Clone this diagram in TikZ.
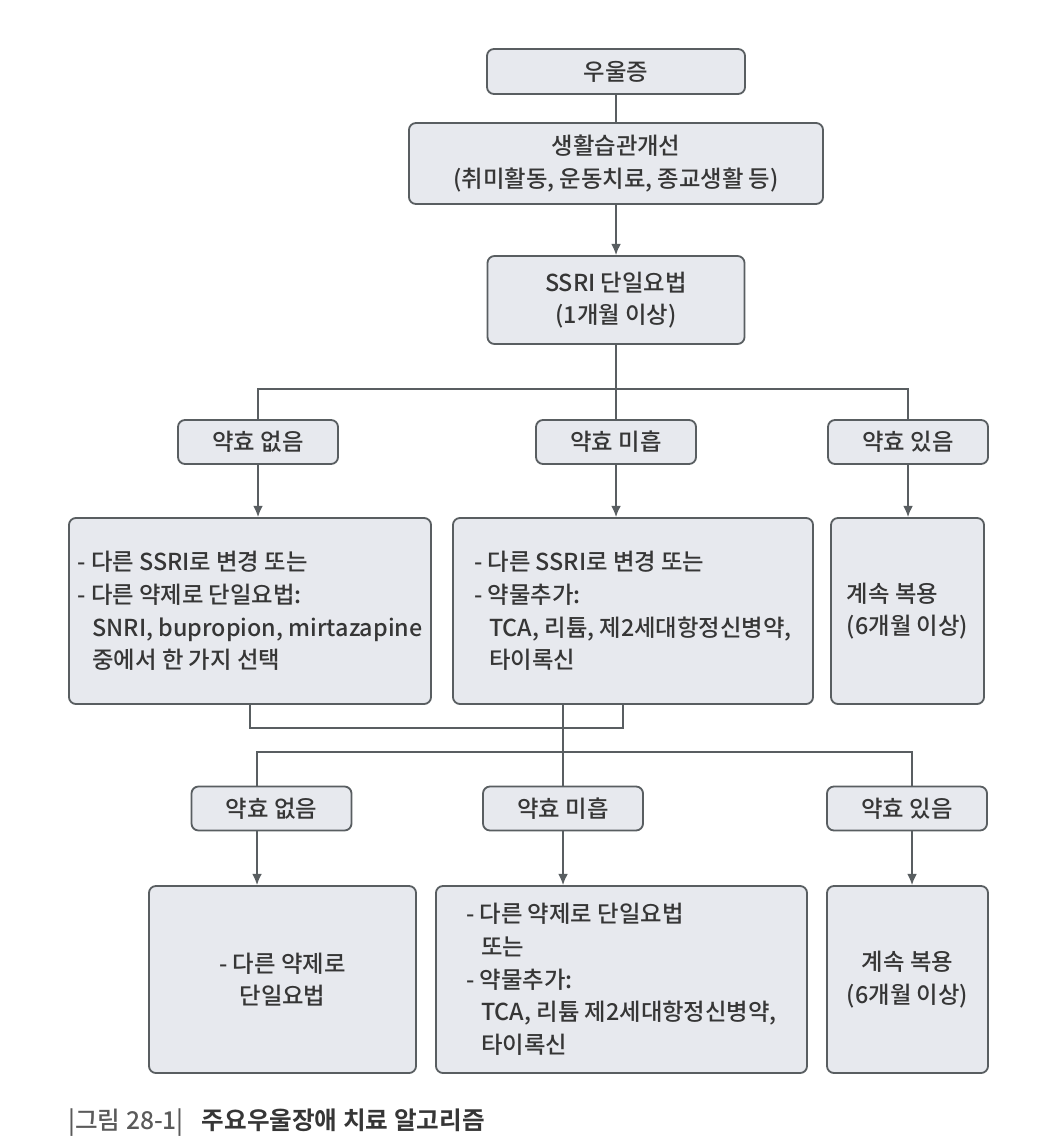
\documentclass[tikz,border=0pt]{standalone}
\usepackage{fontspec}
\setmainfont{Noto Sans CJK KR Medium}[BoldFont={Noto Sans CJK KR Bold}]
\usetikzlibrary{arrows.meta}
\definecolor{boxfill}{HTML}{E7E9EE}
\definecolor{boxline}{HTML}{595E61}
\definecolor{ink}{HTML}{363636}
\definecolor{capgray}{HTML}{5A5A5A}
\tikzset{
  box/.style={draw=boxline, fill=boxfill, line width=1.3pt, rounded corners=5pt, text=ink, inner sep=0pt, font=\fontsize{16.6}{23.2}\selectfont},
  tag/.style={box, minimum width=4cm, minimum height=1.1cm},
  wire/.style={draw=boxline, line width=1.1pt},
}
\newcommand\ind{\hspace*{0.375cm}}

\begin{document}
\begin{tikzpicture}[x=0.025cm, y=-0.025cm, >={Latex[length=8pt,width=7pt]}]
\useasboundingbox (0,0) rectangle (1062,1148);

\node[box, minimum width=6.45cm, minimum height=1.125cm] (dep) at (616,71.5) {우울증};
\node[box, minimum width=10.35cm, minimum height=2.025cm, align=center] (life) at (616,163.5) {생활습관개선\\(취미활동, 운동치료, 종교생활 등)};
\node[box, minimum width=6.425cm, minimum height=2.2cm, align=center] (ssri) at (616,300) {SSRI 단일요법\\(1개월 이상)};

\node[tag] (n1) at (258,442) {약효 없음};
\node[tag] (p1) at (616,442) {약효 미흡};
\node[tag] (y1) at (908,442) {약효 있음};

\node[box, minimum width=9.05cm, minimum height=4.65cm, align=left] (n1box) at (250,611) {- 다른 SSRI로 변경 또는\\- 다른 약제로 단일요법:\\\ind SNRI, bupropion, mirtazapine\\\ind 중에서 한 가지 선택};
\node[box, minimum width=9cm, minimum height=4.65cm, align=left] (p1box) at (633,611) {- 다른 SSRI로 변경 또는\\- 약물추가:\\\ind TCA, 리튬, 제2세대항정신병약,\\\ind 타이록신};
\node[box, minimum width=3.825cm, minimum height=4.65cm, align=left] (y1box) at (907.5,611) {계속 복용\\(6개월 이상)};

\node[tag] (n2) at (271.5,808.5) {약효 없음};
\node[tag] (p2) at (563,808.5) {약효 미흡};
\node[tag] (y2) at (907,808.5) {약효 있음};

\node[box, minimum width=6.675cm, minimum height=4.675cm, align=center] (n2box) at (282.5,979.5) {- 다른 약제로\\단일요법};
\node[box, minimum width=9.275cm, minimum height=4.675cm, align=left] (p2box) at (621.5,979.5) {- 다른 약제로 단일요법\\\ind 또는\\- 약물추가:\\\ind TCA, 리튬 제2세대항정신병약,\\\ind 타이록신};
\node[box, minimum width=4.025cm, minimum height=4.675cm, align=center] (y2box) at (907.5,979.5) {계속 복용\\(6개월 이상)};

\coordinate (bus1) at (616,389);
\coordinate (m1) at (623,728);
\coordinate (bus2l) at (257,752);
\coordinate (bus2r) at (912,752);

\draw[wire] (dep) -- (life);
\draw[wire,->] (life) -- (ssri);
\draw[wire] (ssri) -- (p1);
\draw[wire] (n1) |- (bus1) -| (y1);
\draw[wire,->] (n1) -- (n1 |- n1box.north);
\draw[wire,->] (p1) -- (p1 |- p1box.north);
\draw[wire,->] (y1) -- (y1 |- y1box.north);

\draw[wire] (n1box) |- (m1) -- (m1 |- p1box.south);
\draw[wire] (p2 |- p1box.south) -- (p2);
\draw[wire] (bus2l |- n2.north) -- (bus2l) -- (bus2r) -- (bus2r |- y2.north);
\draw[wire,->] (bus2l |- n2.south) -- (bus2l |- n2box.north);
\draw[wire,->] (p2) -- (p2 |- p2box.north);
\draw[wire,->] (bus2r |- y2.south) -- (bus2r |- y2box.north);

\node[anchor=west, inner sep=0pt, font=\fontsize{17.5}{21}\selectfont] (cap) at (68,1123) {\textcolor{capgray}{|그림 28-1|}\hspace{0.45cm}\textcolor{ink}{\bfseries 주요우울장애 치료 알고리즘}};
\end{tikzpicture}
\end{document}
